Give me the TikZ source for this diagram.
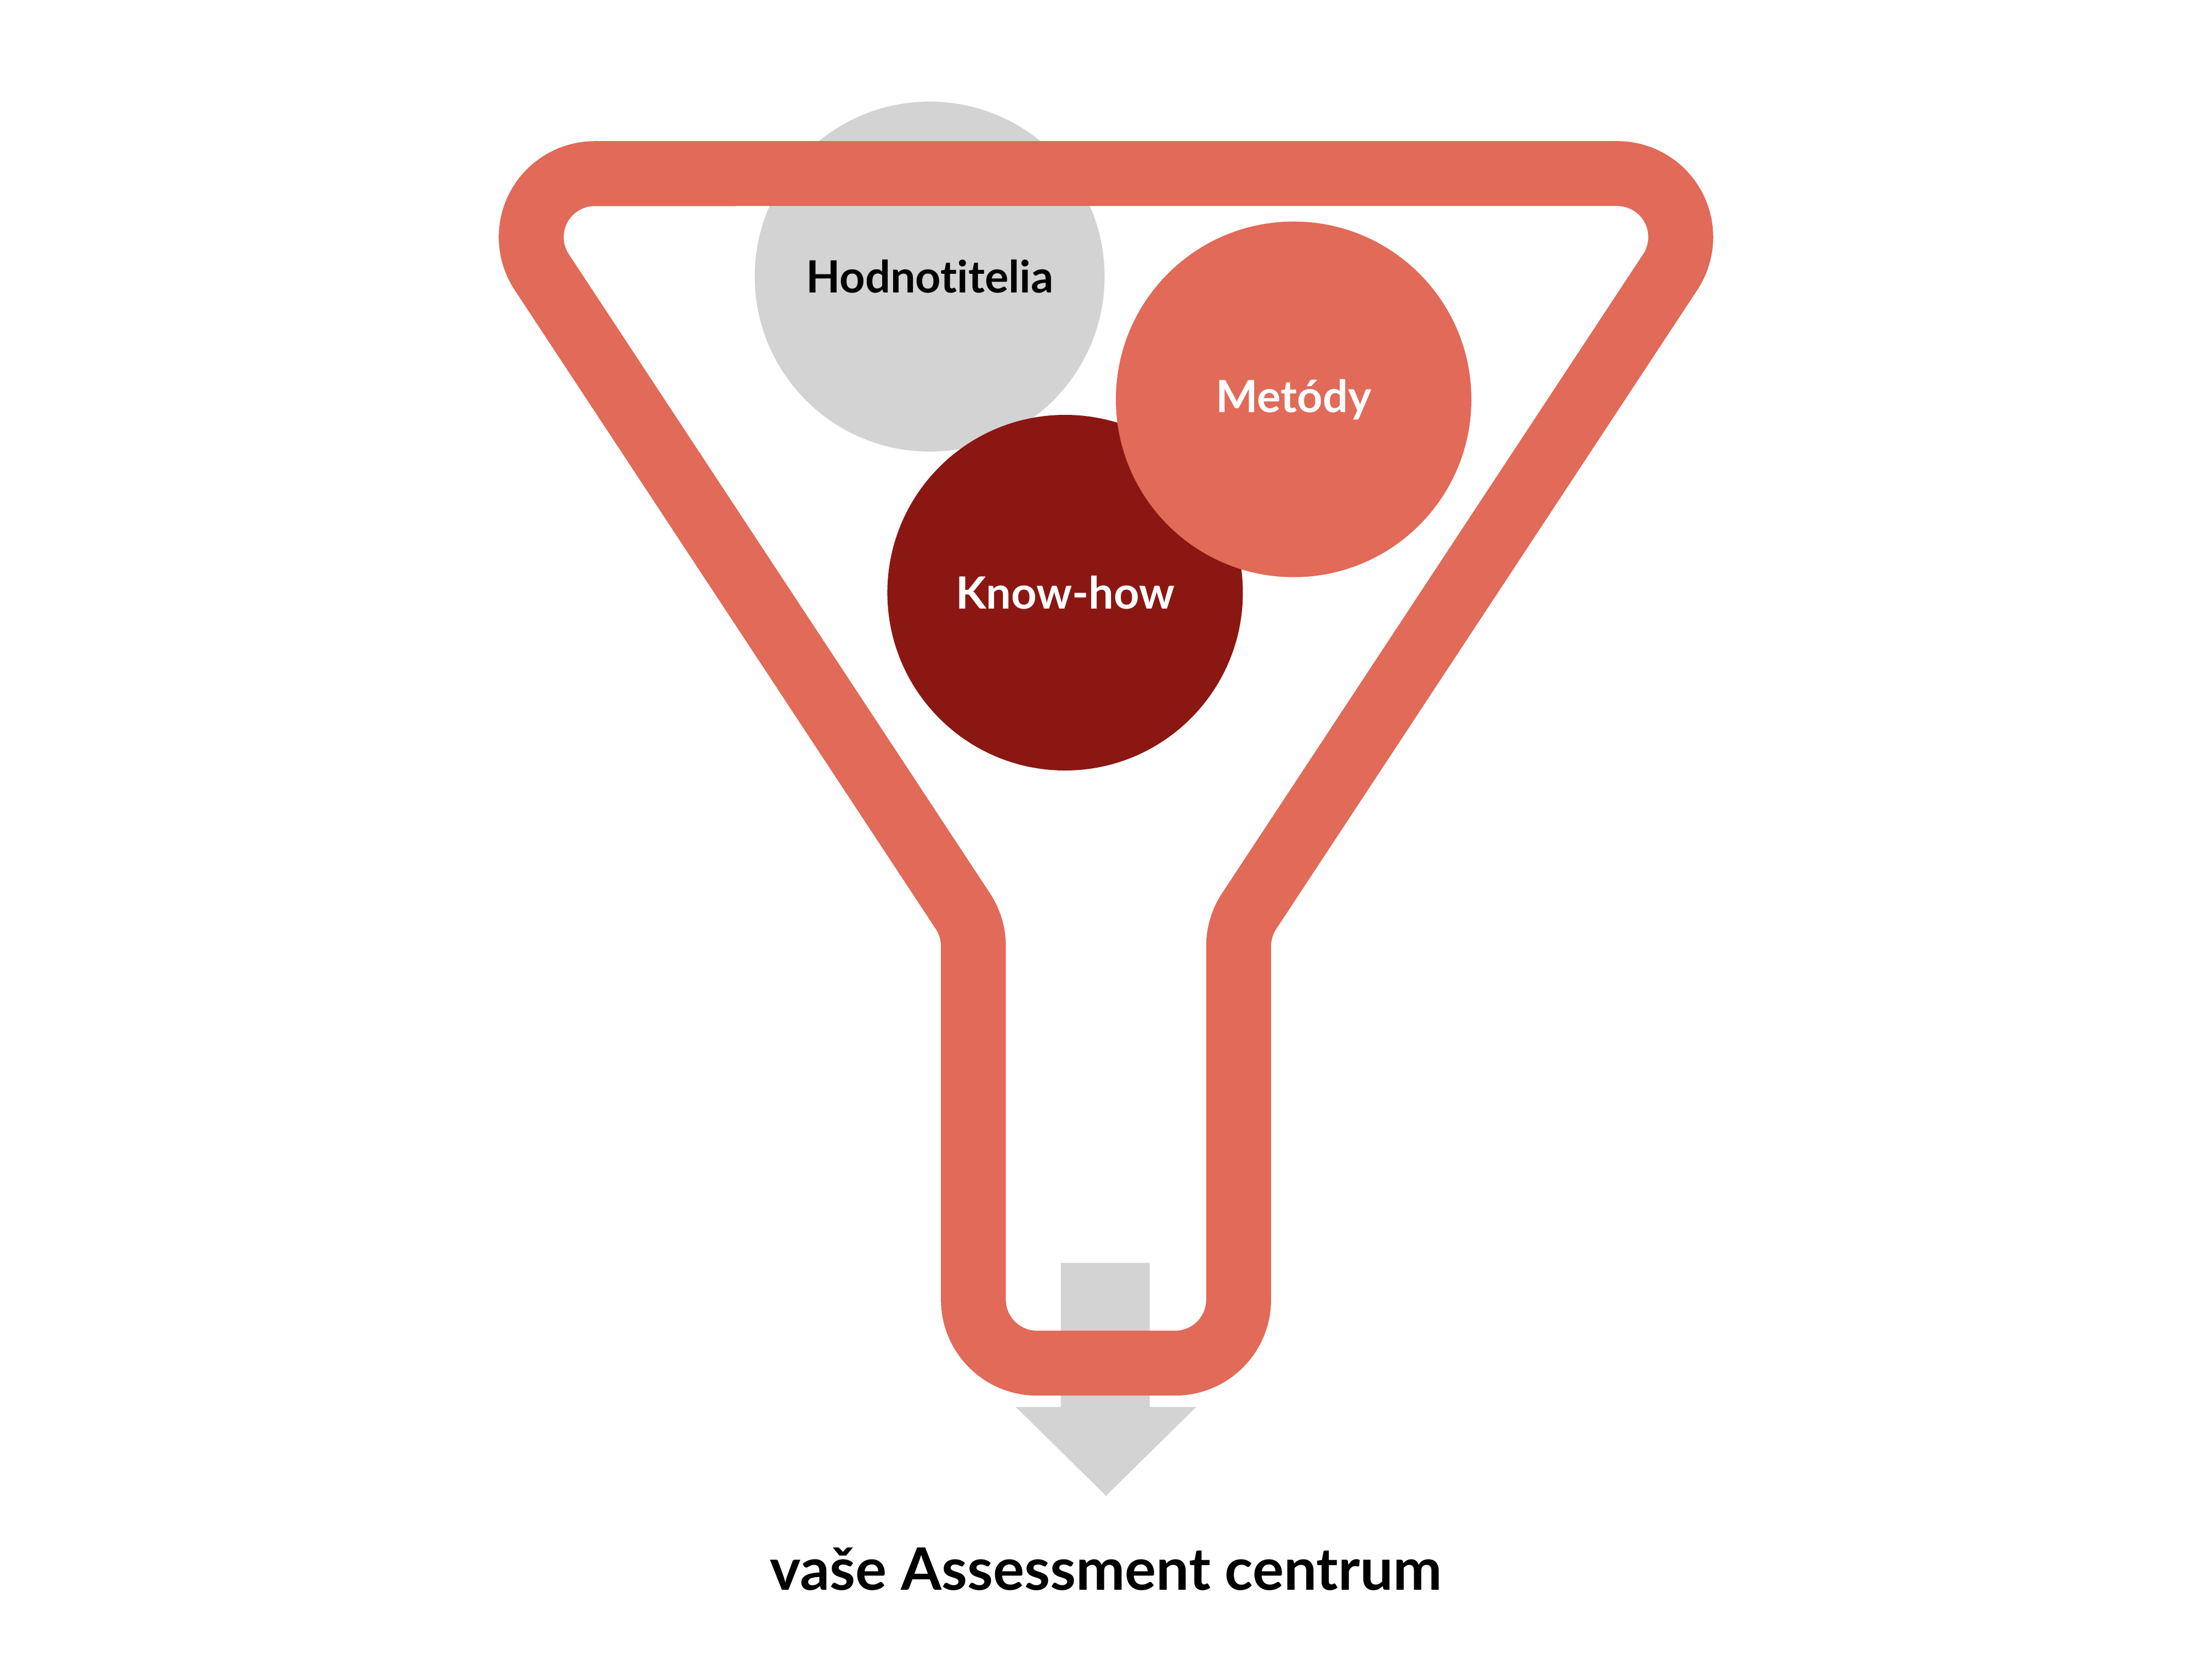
\documentclass[tikz,border=0pt]{standalone}
\usepackage{fontspec}
\setmainfont{Lato}[Ligatures={NoCommon,NoRare,NoDiscretionary}]
\definecolor{funnelred}{HTML}{E16A58}
\definecolor{darkred}{HTML}{8B1713}
\definecolor{lgray}{HTML}{D3D3D3}
\tikzset{
  funnelline/.style={draw=funnelred,line width=46pt,line join=round},
  ball/.style={circle,minimum size=252pt,inner sep=0pt,font=\fontsize{31.5}{36}\selectfont\bfseries},
  arrowshape/.style={fill=lgray,draw=none},
  caption/.style={font=\fontsize{41.5}{50}\selectfont\bfseries,text=black}
}
\begin{document}
\begin{tikzpicture}[x=1pt,y=-1pt]
\useasboundingbox (0,0) rectangle (1568,1176);
% gray circle behind funnel
\node[ball,fill=lgray,minimum size=248pt,text=black] (hod) at (659,196) {Hodnotitelia};
% arrow behind funnel
\fill[arrowshape] (752,895) -- (815,895) -- (815,997) -- (848,997) -- (784,1060) -- (720,997) -- (752,997) -- cycle;
% funnel
\draw[funnelline] (784,123) -- (1146.4,123)
  arc[start angle=-90,end angle=33.4,radius=45] -- (885.43,645.73)
  arc[start angle=213.4,end angle=180,radius=45] -- (878,921)
  arc[start angle=0,end angle=90,radius=45] -- (735,966)
  arc[start angle=90,end angle=180,radius=45] -- (690,670.5)
  arc[start angle=0,end angle=-33.4,radius=45] -- (384.0,192.8)
  arc[start angle=146.6,end angle=270,radius=45] -- cycle;
% circles
\node[ball,fill=darkred,text=white] (know) at (755,420) {Know-how};
\node[ball,fill=funnelred,text=white] (met) at (917,283) {Metódy};
% caption
\node[caption] (cap) at (784,1112) {vaše Assessment centrum};
\end{tikzpicture}
\end{document}
